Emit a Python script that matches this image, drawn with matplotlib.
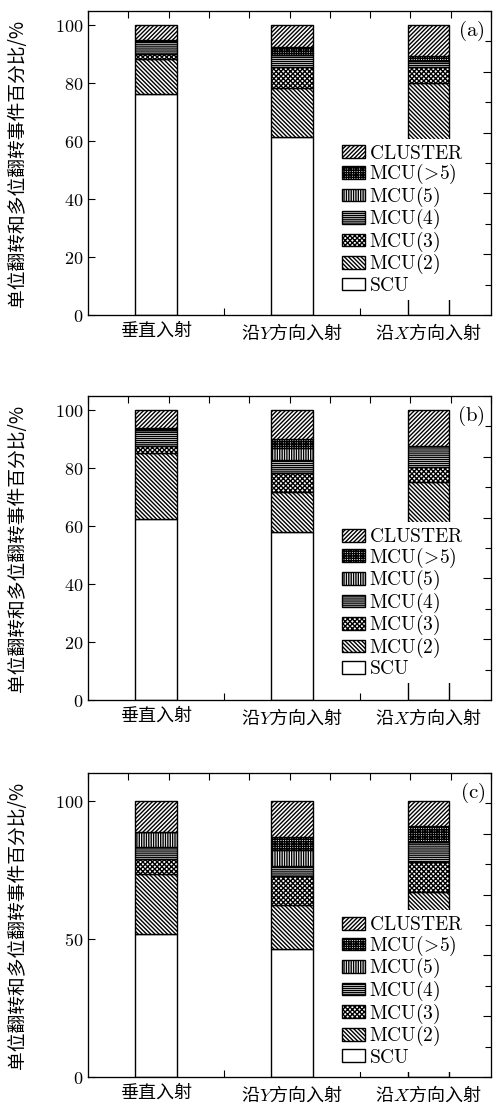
import numpy as np
import matplotlib.pyplot as plt
from matplotlib.patches import Patch

plt.rcParams['mathtext.fontset'] = 'cm'
plt.rcParams['hatch.linewidth'] = 1.0
plt.rcParams['font.family'] = ['Noto Sans CJK SC', 'DejaVu Sans']

categories = ['垂直入射', '沿$Y$方向入射', '沿$X$方向入射']
series = ['SCU', 'MCU(2)', 'MCU(3)', 'MCU(4)', 'MCU(5)', 'MCU(\\!>\\!5)', 'CLUSTER']
hatches = ['', '\\' * 8, 'x' * 7, '-' * 8, '|' * 7, '+' * 7, '/' * 8]

# percentages, one row per series (SCU ... CLUSTER), one column per category
panel_a = np.array([
    [76.3, 61.6, 59.7],
    [12.1, 16.8, 20.4],
    [1.7, 7.4, 5.4],
    [4.7, 4.1, 2.1],
    [0.2, 0.5, 0.3],
    [0.0, 2.0, 1.7],
    [5.0, 7.6, 10.4],
])
panel_b = np.array([
    [62.5, 58.0, 59.7],
    [22.8, 14.0, 15.6],
    [2.6, 6.4, 5.3],
    [5.4, 4.6, 7.3],
    [0.0, 4.0, 0.0],
    [0.5, 3.1, 0.0],
    [6.2, 9.9, 12.1],
])
panel_c = np.array([
    [51.8, 46.2, 50.0],
    [21.7, 15.9, 16.9],
    [5.4, 10.8, 10.8],
    [4.2, 3.6, 7.2],
    [5.7, 5.8, 0.0],
    [0.0, 4.4, 5.8],
    [11.2, 13.3, 9.3],
])

W, H = 502, 1106
fig = plt.figure(figsize=(W / 100, H / 100), dpi=100)


def draw_panel(data, letter, top_px, bottom_px, ymax, yticks, leg_y):
    left, right = 88, 491
    ax = fig.add_axes([left / W, 1 - bottom_px / H, (right - left) / W, (bottom_px - top_px) / H])
    x = np.arange(1, 4)
    base = np.zeros(3)
    for vals, name, h in zip(data, series, hatches):
        ax.bar(x, vals, 0.305, bottom=base, facecolor='white', edgecolor='black',
               hatch=h, linewidth=1.0, zorder=2)
        base += vals
    ax.set_xlim(0.5, 3.46)
    ax.set_ylim(0, ymax)
    ax.set_xticks([1, 2, 3], categories, fontsize=13)
    ax.set_xticks([1.5, 2.5], minor=True)
    ax.set_yticks(yticks, [f'$\\mathrm{{{t}}}$' for t in yticks], fontsize=13)
    ax.tick_params(direction='in', length=5, width=0.8, top=False, right=False)
    ax.tick_params(which='minor', direction='in', length=5, width=0.8, top=False, right=False)
    ax.tick_params(axis='x', pad=5)

    # independent right and top axes with 10 divisions, no labels
    ax_r = ax.twinx()
    ax_r.set_ylim(0, 10)
    ax_r.set_yticks(np.arange(0, 11, 2), [])
    ax_r.set_yticks(np.arange(1, 10, 2), minor=True)
    ax_r.tick_params(which='both', direction='in', width=0.8)
    ax_r.tick_params(which='major', length=6)
    ax_r.tick_params(which='minor', length=4)
    ax_t = ax.twiny()
    ax_t.set_xlim(0, 10)
    ax_t.set_xticks(np.arange(0, 11), [])
    ax_t.tick_params(direction='in', length=5, width=0.8)

    handles = [Patch(facecolor='white', edgecolor='black', hatch=h, linewidth=1.0)
               for h in hatches]
    labels = [f'$\\mathrm{{{s}}}$' for s in series]
    leg = ax.legend(handles[::-1], labels[::-1], loc='lower left',
                    bbox_to_anchor=(0.62, leg_y), fontsize=14, frameon=True,
                    labelspacing=-0.08, handlelength=1.2, handleheight=0.62,
                    handletextpad=0.2, borderpad=0.2, borderaxespad=0.0)
    leg.get_frame().set_edgecolor('none')
    leg.get_frame().set_facecolor('white')
    leg.get_frame().set_alpha(1)
    leg.set_zorder(5)

    ax.text(0.985, 0.975, f'$\\mathrm{{({letter})}}$', transform=ax.transAxes,
            ha='right', va='top', fontsize=15)
    fig.text(18 / W, 1 - (top_px + bottom_px) / 2 / H, '单位翻转和多位翻转事件百分比/%',
             rotation=90, ha='center', va='center', fontsize=13.5)
    return ax


draw_panel(panel_a, 'a', 11, 315, 105, [0, 20, 40, 60, 80, 100], 0.05)
draw_panel(panel_b, 'b', 396, 700, 105, [0, 20, 40, 60, 80, 100], 0.055)
draw_panel(panel_c, 'c', 773, 1077, 110, [0, 50, 100], 0.018)

fig.savefig('out.png', dpi=100)
